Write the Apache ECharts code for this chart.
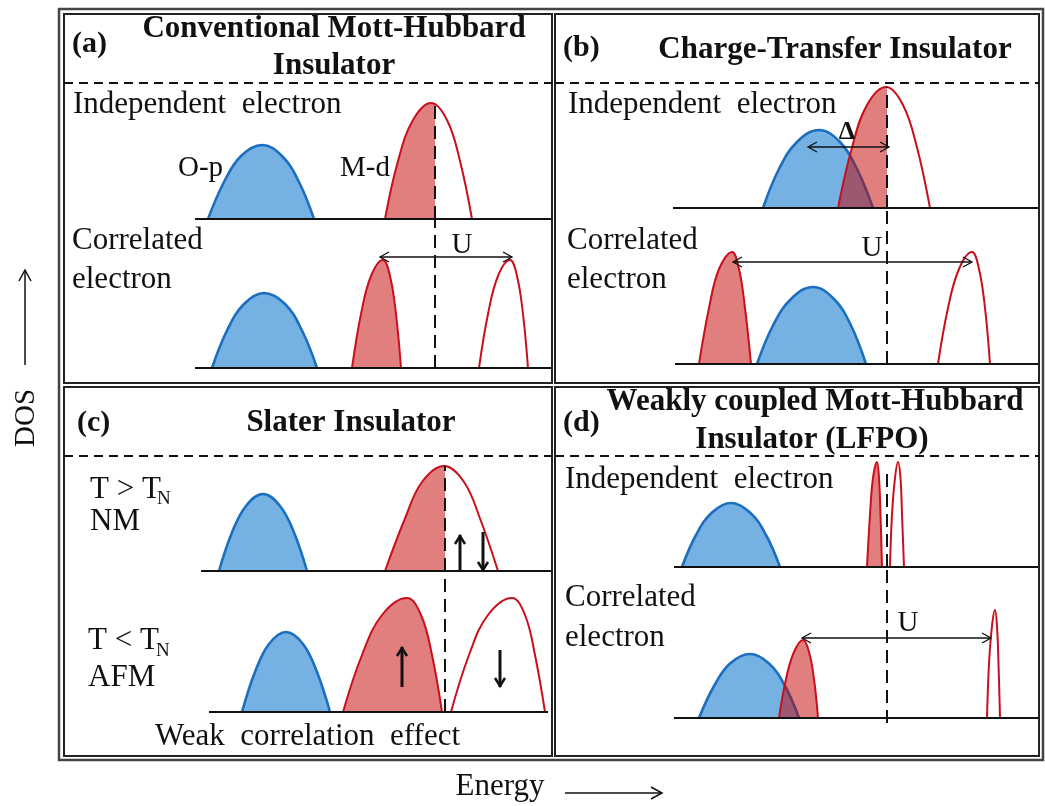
<!DOCTYPE html>
<html><head><meta charset="utf-8">
<script src="https://cdn.jsdelivr.net/npm/echarts@6/dist/echarts.min.js"></script>
<style>html,body{margin:0;padding:0;background:#fff}#c{width:1045px;height:806px}</style>
</head><body><div id="c"></div><script>
// ---------- DATA (energy: arbitrary units, Fermi level = 0; DOS: arbitrary units) ----------
// Panel (a) Conventional Mott-Hubbard
const aBase1 = [[-24.0,0],[11.7,0]];
const aBase2 = [[-24.0,0],[11.7,0]];
const aOp1 = [[-22.7,0],[-21.1,3.7],[-19.4,6.3],[-17.3,7.4],[-15.3,6.3],[-13.6,3.7],[-12.1,0]];
const aMd1 = [[-5.0,0],[-3.7,5.8],[-2.2,9.9],[-0.4,11.6],[1.2,9.9],[2.5,5.8],[3.7,0]];
const aMd1Occ = [[-5.0,0],[-3.7,5.8],[-2.2,9.9],[-0.4,11.6],[0,11.5]];
const aOp2 = [[-22.3,0],[-20.8,3.75],[-19.1,6.4],[-17.1,7.5],[-15.0,6.4],[-13.3,3.75],[-11.8,0]];
const aLhb2 = [[-8.3,0],[-7.4,5.4],[-6.4,9.2],[-5.2,10.8],[-4.5,9.2],[-3.9,5.4],[-3.4,0]];
const aUhb2 = [[4.4,0],[5.3,5.4],[6.3,9.2],[7.5,10.8],[8.2,9.2],[8.8,5.4],[9.3,0]];
const aFermi1 = [[0,0],[0,11.6]];
const aFermi2 = [[0,0],[0,14.9]];
const aU = [[-5.5,7.7,11.1]];
// Panel (b) Charge-Transfer
const bBase1 = [[-21.4,0],[15.2,0]];
const bBase2 = [[-21.2,0],[15.2,0]];
const bOp1 = [[-12.4,0],[-10.8,3.9],[-9.0,6.6],[-6.8,7.8],[-4.7,6.6],[-3.0,3.9],[-1.4,0]];
const bMd1 = [[-4.9,0],[-3.5,6.05],[-2.0,10.3],[-0.1,12.1],[1.6,10.3],[3.0,6.05],[4.3,0]];
const bMd1Occ = [[-4.9,0],[-3.5,6.05],[-2.0,10.3],[-0.1,12.1],[0,12.1]];
const bLhb2 = [[-18.8,0],[-17.8,5.6],[-16.8,9.5],[-15.5,11.2],[-14.8,9.5],[-14.2,5.6],[-13.6,0]];
const bOp2 = [[-13.0,0],[-11.4,3.85],[-9.6,6.5],[-7.4,7.7],[-5.3,6.5],[-3.6,3.85],[-2.1,0]];
const bUhb2 = [[5.1,0],[6.1,5.6],[7.2,9.5],[8.5,11.2],[9.2,9.5],[9.8,5.6],[10.3,0]];
const bFermi1 = [[0,0],[0,12.1]];
const bFermi2 = [[0,0],[0,15.6]];
const bDelta = [[-7.9,0.2,6.1]];
const bU = [[-15.4,8.5,10.2]];
// Panel (c) Slater
const cBase1 = [[-24.4,0],[10.7,0]];
const cBase2 = [[-23.6,0],[10.3,0]];
const cOp1 = [[-22.6,0],[-21.3,3.85],[-19.9,6.5],[-18.2,7.7],[-16.5,6.5],[-15.1,3.85],[-13.8,0]];
const cMd1 = [[-6.0,0],[-4.0,5.25],[-2.3,8.9],[-0.1,10.5],[1.9,8.9],[3.5,5.25],[5.3,0]];
const cMd1Occ = [[-6.0,0],[-4.0,5.25],[-2.3,8.9],[-0.1,10.5],[0,10.5]];
const cOp2 = [[-20.3,0],[-19.0,4.0],[-17.6,6.8],[-15.9,8.0],[-14.2,6.8],[-12.8,4.0],[-11.5,0]];
const cUp2 = [[-10.2,0],[-8.3,5.7],[-6.3,9.7],[-3.8,11.4],[-2.4,9.7],[-1.3,5.7],[-0.3,0]];
const cDn2 = [[0.6,0],[2.4,5.7],[4.3,9.7],[6.7,11.4],[8.0,9.7],[9.0,5.7],[10.0,0]];
const cFermi1 = [[0,0],[0,10.5]];
const cFermi2 = [[0,0],[0,14.1]];
const cSpin1 = [[1.5,0,3.6],[3.8,3.9,0]];
const cSpin2 = [[-4.3,2.5,6.5],[5.5,6.2,2.5]];
// Panel (d) Weakly coupled Mott-Hubbard (LFPO)
const dBase1 = [[-21.3,0],[15.2,0]];
const dBase2 = [[-21.3,0],[15.2,0]];
const dOp1 = [[-20.5,0],[-19.1,3.2],[-17.5,5.45],[-15.6,6.4],[-13.7,5.45],[-12.1,3.2],[-10.7,0]];
const dOcc1 = [[-2.0,0],[-1.7,5.25],[-1.4,8.9],[-1.0,10.5],[-0.8,8.9],[-0.65,5.25],[-0.5,0]];
const dEmp1 = [[0.3,0],[0.5,5.25],[0.8,8.9],[1.1,10.5],[1.35,8.9],[1.5,5.25],[1.7,0]];
const dOp2 = [[-18.8,0],[-17.3,3.2],[-15.7,5.45],[-13.7,6.4],[-11.8,5.45],[-10.2,3.2],[-8.8,0]];
const dLhb2 = [[-10.8,0],[-10.1,3.9],[-9.3,6.6],[-8.4,7.8],[-7.8,6.6],[-7.3,3.9],[-6.9,0]];
const dUhb2 = [[10.0,0],[10.2,5.4],[10.5,9.2],[10.8,10.8],[11.0,9.2],[11.15,5.4],[11.3,0]];
const dFermi1 = [[0,0],[0,9.4]];
const dFermi2 = [[0,-0.5],[0,15.1]];
const dU = [[-8.5,10.4,8.0]];

// ---------- LAYOUT ----------
const layout = [
  {left:64,  top:83,  width:488, height:136, xmin:-37.1, xmax:11.7, ymin:0, ymax:13.6},
  {left:64,  top:219, width:488, height:149, xmin:-37.1, xmax:11.7, ymin:0, ymax:14.9},
  {left:555, top:83,  width:484, height:125, xmin:-33.2, xmax:15.2, ymin:0, ymax:12.5},
  {left:555, top:208, width:484, height:156, xmin:-33.2, xmax:15.2, ymin:0, ymax:15.6},
  {left:64,  top:456, width:488, height:115, xmin:-38.1, xmax:10.7, ymin:0, ymax:11.5},
  {left:64,  top:571, width:488, height:141, xmin:-38.1, xmax:10.7, ymin:0, ymax:14.1},
  {left:555, top:456, width:484, height:111, xmin:-33.2, xmax:15.2, ymin:0, ymax:11.1},
  {left:555, top:567, width:484, height:157, xmin:-33.2, xmax:15.2, ymin:-0.6, ymax:15.1}
];
const BLUE_FILL = '#75b1e2', BLUE_LINE = '#1c6fc0';
const RED_FILL = 'rgba(195,0,0,0.5)', RED_LINE = '#c8101c';
const FONT = '"Liberation Serif","Times New Roman",serif';
const SMOOTH = 0.4;

const series = [];
function line(g, data, o) {
  series.push(Object.assign({type:'line', xAxisIndex:g, yAxisIndex:g, data:data, symbol:'none',
    silent:true, animation:false, clip:false}, o));
}
function blue(g, d){ line(g, d, {smooth:SMOOTH, z:2, lineStyle:{color:BLUE_LINE,width:2.6}, areaStyle:{color:BLUE_FILL,opacity:1}}); }
function redArea(g, d){ line(g, d, {smooth:SMOOTH, z:3, lineStyle:{width:0,opacity:0}, areaStyle:{color:RED_FILL,opacity:1}}); }
function redLine(g, d){ line(g, d, {smooth:SMOOTH, z:4, lineStyle:{color:RED_LINE,width:2}}); }
function redFull(g, d){ redArea(g, d); redLine(g, d); }
function base(g, d){ line(g, d, {z:5, lineStyle:{color:'#111',width:2}}); }
function fermi(g, d){ line(g, d, {z:6, lineStyle:{color:'#111',width:2,type:[13,7]}}); }
function dArrow(g, d){
  series.push({type:'custom', xAxisIndex:g, yAxisIndex:g, data:d, z:7, silent:true, animation:false,
    renderItem:function(p, api){
      const p1 = api.coord([api.value(0), api.value(2)]);
      const p2 = api.coord([api.value(1), api.value(2)]);
      const h = 9, w = 5, st = {stroke:'#111', lineWidth:1.3, fill:null};
      return {type:'group', children:[
        {type:'line', shape:{x1:p1[0],y1:p1[1],x2:p2[0],y2:p2[1]}, style:st},
        {type:'polyline', shape:{points:[[p1[0]+h,p1[1]-w],[p1[0],p1[1]],[p1[0]+h,p1[1]+w]]}, style:st},
        {type:'polyline', shape:{points:[[p2[0]-h,p2[1]-w],[p2[0],p2[1]],[p2[0]-h,p2[1]+w]]}, style:st}
      ]};
    }});
}
function spin(g, d){
  series.push({type:'custom', xAxisIndex:g, yAxisIndex:g, data:d, z:7, silent:true, animation:false,
    renderItem:function(p, api){
      const p1 = api.coord([api.value(0), api.value(1)]);
      const p2 = api.coord([api.value(0), api.value(2)]);
      const dir = p2[1] < p1[1] ? 1 : -1;
      const st = {stroke:'#111', lineWidth:3, fill:null};
      return {type:'group', children:[
        {type:'line', shape:{x1:p1[0],y1:p1[1],x2:p2[0],y2:p2[1]}, style:st},
        {type:'polyline', shape:{points:[[p2[0]-5,p2[1]+dir*9],[p2[0],p2[1]+dir*1],[p2[0]+5,p2[1]+dir*9]]}, style:{stroke:'#111',lineWidth:2.5,fill:null}}
      ]};
    }});
}

// (a)
blue(0,aOp1); redArea(0,aMd1Occ); redLine(0,aMd1); base(0,aBase1); fermi(0,aFermi1);
blue(1,aOp2); redFull(1,aLhb2); redLine(1,aUhb2); base(1,aBase2); fermi(1,aFermi2); dArrow(1,aU);
// (b)
blue(2,bOp1); redArea(2,bMd1Occ); redLine(2,bMd1); base(2,bBase1); fermi(2,bFermi1); dArrow(2,bDelta);
redFull(3,bLhb2); blue(3,bOp2); redLine(3,bUhb2); base(3,bBase2); fermi(3,bFermi2); dArrow(3,bU);
// (c)
blue(4,cOp1); redArea(4,cMd1Occ); redLine(4,cMd1); base(4,cBase1); fermi(4,cFermi1); spin(4,cSpin1);
blue(5,cOp2); redFull(5,cUp2); redLine(5,cDn2); base(5,cBase2); fermi(5,cFermi2); spin(5,cSpin2);
// (d)
blue(6,dOp1); redFull(6,dOcc1); redLine(6,dEmp1); base(6,dBase1); fermi(6,dFermi1);
blue(7,dOp2); redFull(7,dLhb2); redLine(7,dUhb2); base(7,dBase2); fermi(7,dFermi2); dArrow(7,dU);

// ---------- GRAPHIC (frames and text) ----------
function T(x, y, text, size, bold, align){
  return {type:'text', x:x, y:y, silent:true, z:10, style:{text:text, fill:'#111',
    font:(bold?'bold ':'') + size + 'px ' + FONT, textAlign:align||'left', align:align||'left',
    textVerticalAlign:'middle', verticalAlign:'middle'}};
}
function L(x1,y1,x2,y2,w,dash,color){
  return {type:'line', silent:true, z:9, shape:{x1:x1,y1:y1,x2:x2,y2:y2},
    style:{stroke:color||'#111', lineWidth:w||2, lineDash:dash||null}};
}
function R(x,y,w,h,color,lw){
  return {type:'rect', silent:true, z:9, shape:{x:x,y:y,width:w,height:h},
    style:{stroke:color||'#222', lineWidth:lw||2, fill:null}};
}
const g = [
  R(59,9,984,751,'#444',2.5),
  R(64,14,488,369), R(555,14,484,369), R(64,387,488,369), R(555,387,484,369),
  L(64,83,552,83,2,[9,6]), L(555,83,1039,83,2,[9,6]),
  L(64,456,552,456,2,[9,6]), L(555,456,1039,456,2,[9,6]),
  // panel (a)
  T(72,44,'(a)',30,true), T(334,29,'Conventional Mott-Hubbard',31,true,'center'),
  T(334,66,'Insulator',31,true,'center'),
  T(73,105,'Independent  electron',31), T(178,168,'O-p',29), T(340,168,'M-d',29),
  T(72,241,'Correlated',31), T(72,280,'electron',31), T(462,245,'U',29,false,'center'),
  // panel (b)
  T(563,48,'(b)',30,true), T(835,50,'Charge-Transfer Insulator',31,true,'center'),
  T(568,105,'Independent  electron',31), T(847,132,'Δ',26,true,'center'),
  T(567,241,'Correlated',31), T(567,280,'electron',31), T(872,248,'U',29,false,'center'),
  // panel (c)
  T(77,423,'(c)',30,true), T(351,423,'Slater Insulator',31,true,'center'),
  T(90,490,'T > T',31), T(157,499,'N',19), T(90,522,'NM',31),
  T(88,641,'T < T',31), T(156,651,'N',19), T(88,678,'AFM',31),
  T(155,737,'Weak  correlation  effect',31),
  // panel (d)
  T(563,423,'(d)',30,true), T(815,402,'Weakly coupled Mott-Hubbard',31,true,'center'),
  T(812,440,'Insulator (LFPO)',31,true,'center'),
  T(565,480,'Independent  electron',31),
  T(565,598,'Correlated',31), T(565,638,'electron',31), T(908,623,'U',29,false,'center'),
  // axis captions
  {type:'text', x:26, y:418, rotation:Math.PI/2, silent:true, z:10,
    style:{text:'DOS', fill:'#111', font:'29px '+FONT, textAlign:'center', align:'center', textVerticalAlign:'middle', verticalAlign:'middle'}},
  L(25,365,25,271,1.5), {type:'polyline', silent:true, z:9, shape:{points:[[19,281],[25,270],[31,281]]}, style:{stroke:'#111',lineWidth:1.5,fill:null}},
  T(500,787,'Energy',31,false,'center'),
  L(565,793,661,793,1.5), {type:'polyline', silent:true, z:9, shape:{points:[[651,787],[662,793],[651,799]]}, style:{stroke:'#111',lineWidth:1.5,fill:null}}
];

const chart = echarts.init(document.getElementById('c'), null, {renderer:'canvas'});
chart.setOption({
  animation:false,
  backgroundColor:'#fff',
  grid: layout.map(l => ({left:l.left, top:l.top, width:l.width, height:l.height, show:false})),
  xAxis: layout.map((l,i) => ({gridIndex:i, type:'value', min:l.xmin, max:l.xmax, show:false})),
  yAxis: layout.map((l,i) => ({gridIndex:i, type:'value', min:l.ymin, max:l.ymax, show:false})),
  series: series,
  graphic: {elements: g}
});
</script></body></html>
